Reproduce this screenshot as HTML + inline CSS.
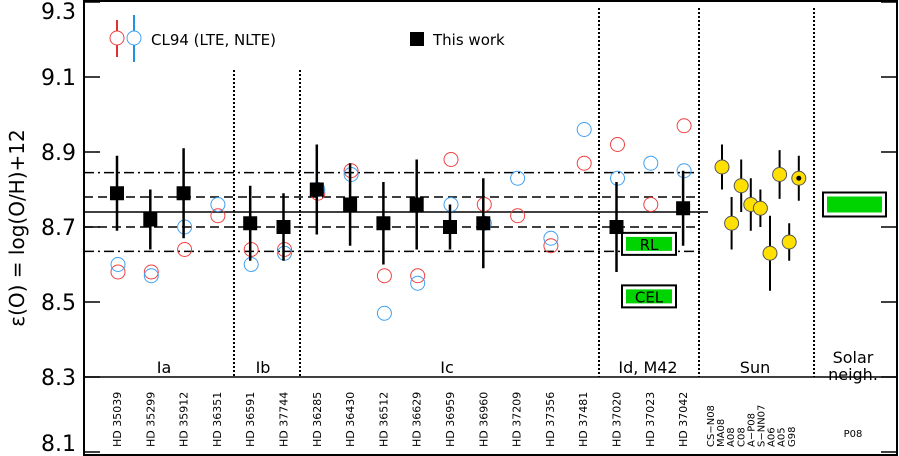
<!DOCTYPE html>
<html><head><meta charset="utf-8">
<style>
html,body{margin:0;padding:0;background:#fff;}
svg{display:block;font-family:"DejaVu Sans","Liberation Sans",sans-serif;}
</style></head>
<body>
<svg id="chart" width="899" height="456" viewBox="0 0 899 456"></svg>
<script>
const stars = ["HD 35039","HD 35299","HD 35912","HD 36351","HD 36591","HD 37744","HD 36285","HD 36430","HD 36512","HD 36629","HD 36959","HD 36960","HD 37209","HD 37356","HD 37481","HD 37020","HD 37023","HD 37042"];
const thisWork = [8.79,8.72,8.79,null,8.71,8.70,8.80,8.76,8.71,8.76,8.70,8.71,null,null,null,8.70,null,8.75];
const thisWorkErr = [0.10,0.08,0.12,null,0.10,0.09,0.12,0.11,0.11,0.12,0.06,0.12,null,null,null,0.12,null,0.10];
const cl94LTE = [8.58,8.58,8.64,8.73,8.64,8.64,8.79,8.85,8.57,8.57,8.88,8.76,8.73,8.65,8.87,8.92,8.76,8.97];
const cl94NLTE = [8.60,8.57,8.70,8.76,8.60,8.63,8.80,8.84,8.47,8.55,8.76,8.71,8.83,8.67,8.96,8.83,8.87,8.85];
const sunLabels = ["CS\u2212N08","MA08","A08","C08","A\u2212P08","S\u2212NN07","A06","A05","G98"];
const sunValues = [8.86,8.71,8.81,8.76,8.75,8.63,8.84,8.66,8.83];
const sunErr = [0.06,0.07,0.07,0.07,0.05,0.10,0.065,0.05,0.06];
const yTicks = [8.1,8.3,8.5,8.7,8.9,9.1,9.3];
const meanLevel = 8.74, sigma1 = [8.70,8.78], sigma2 = [8.635,8.845];
const solarNeigh = 8.76;
const rlValue = 8.655, celValue = 8.515;

const svg = document.getElementById('chart');
const NS = 'http://www.w3.org/2000/svg';
const Y = v => 77 + (9.1 - v) * 375;
const X = i => 117 + 33.3 * i;
const SX = i => 722 + 9.6 * i;
function el(tag, attrs, parent) {
  const e = document.createElementNS(NS, tag);
  for (const k in attrs) e.setAttribute(k, attrs[k]);
  (parent || svg).appendChild(e);
  return e;
}
let e;
e = el('rect',{x:84,y:1,width:813,height:454,fill:'none',stroke:'#000','stroke-width':2});
 
e = el('line',{x1:84,y1:Y(8.3),x2:897,y2:Y(8.3),stroke:'#000','stroke-width':1.5});
 
yTicks.forEach(t => {
  const y = Y(t);
  e = el('line',{x1:84,y1:y,x2:100,y2:y,stroke:'#000','stroke-width':1.5});
   
  e = el('line',{x1:881,y1:y,x2:897,y2:y,stroke:'#000','stroke-width':1.5});
   
  let ly = y + 8;
  if (ly < 20) ly = 19;
  if (ly > 452) ly = 451;
  e = el('text',{x:76,y:ly,'text-anchor':'end','font-size':22,fill:'#000'});
  e.textContent = t.toFixed(1);
   
});
e = el('text',{x:0,y:0,transform:'translate(24,228) rotate(-90)','text-anchor':'middle','font-size':20,fill:'#000','xml:space':'preserve'});
e.textContent = '\u03b5(O)  =  log(O/H)+12';
 
function hline(v, dash, name, x2) {
  e = el('line',{x1:84,y1:Y(v),x2:x2,y2:Y(v),stroke:'#000','stroke-width':1.5,'stroke-dasharray':dash});
   
}
hline(meanLevel,'none','mean-line',708);
hline(sigma1[0],'9,5','sigma1-lower-line',700);
hline(sigma1[1],'9,5','sigma1-upper-line',700);
hline(sigma2[0],'10,4,2,4','sigma2-lower-line',700);
hline(sigma2[1],'10,4,2,4','sigma2-upper-line',700);
[[234,70],[300,70],[599,8],[699,8],[814,8]].forEach(([x,t]) => {
  e = el('line',{x1:x,y1:t,x2:x,y2:Y(8.3),stroke:'#000','stroke-width':2,'stroke-dasharray':'2,2'});
   
});
[['Ia',164,367],['Ib',263,367],['Ic',447,367],['Id, M42',648,367],['Sun',755,367],['Solar',853,357],['neigh.',853,374]].forEach(([t,x,y]) => {
  e = el('text',{x:x,y:y+6,'text-anchor':'middle','font-size':16,fill:'#000'});
  e.textContent = t;
   
});
function box(x1,y1,x2,y2,label,name){
  const g = el('g',{});
   
  el('rect',{x:x1,y:y1,width:x2-x1,height:y2-y1,fill:'#fff',stroke:'#000','stroke-width':2},g);
  el('rect',{x:x1+4,y:y1+4,width:x2-x1-8,height:y2-y1-8,fill:'#00d400'},g);
  if(label){ const t = el('text',{x:(x1+x2)/2,y:(y1+y2)/2+6,'text-anchor':'middle','font-size':15,fill:'#000'},g); t.textContent = label; }
}
box(622,Y(rlValue)-11,676,Y(rlValue)+11,'RL','rl-box');
box(622,Y(celValue)-11,676,Y(celValue)+11,'CEL','cel-box');
box(823,Y(solarNeigh)-12,886,Y(solarNeigh)+12,'','solar-neighborhood-box');
stars.forEach((s,i) => {
  e = el('circle',{cx:X(i)+1,cy:Y(cl94LTE[i]),r:7,fill:'none',stroke:'#f04040','stroke-width':1});
   
  e = el('circle',{cx:X(i)+1,cy:Y(cl94NLTE[i]),r:7,fill:'none',stroke:'#40a0f0','stroke-width':1});
   
});
stars.forEach((s,i) => {
  if (thisWork[i] === null) return;
  const x = X(i), v = thisWork[i], er = thisWorkErr[i];
  e = el('line',{x1:x,y1:Y(v+er),x2:x,y2:Y(v-er),stroke:'#000','stroke-width':2.5});
   
  e = el('rect',{x:x-7,y:Y(v)-7,width:14,height:14,fill:'#000'});
   
});
sunValues.forEach((v,i) => {
  const x = SX(i);
  e = el('line',{x1:x,y1:Y(v+sunErr[i]),x2:x,y2:Y(v-sunErr[i]),stroke:'#000','stroke-width':2});
   
  e = el('circle',{cx:x,cy:Y(v),r:7,fill:'#ffe000',stroke:'#555','stroke-width':1});
   
  if (i === sunValues.length-1) {
    e = el('circle',{cx:x,cy:Y(v),r:2.5,fill:'#000'});
     
  }
});
stars.forEach((s,i) => {
  const x = X(i)+4;
  e = el('text',{x:0,y:0,transform:`translate(${x},447) rotate(-90)`,'font-size':11,fill:'#000','xml:space':'preserve'});
  e.textContent = s.replace(' ','  ');
   
});
sunLabels.forEach((s,i) => {
  const x = 714 + 10.1*i;
  e = el('text',{x:0,y:0,transform:`translate(${x},447) rotate(-90)`,'font-size':10,fill:'#000'});
  e.textContent = s;
   
});
e = el('text',{x:853,y:437,'text-anchor':'middle','font-size':10,fill:'#000'});
e.textContent = 'P08';
 
const lg = el('g',{});
 
el('line',{x1:117,y1:20,x2:117,y2:57,stroke:'#e03030','stroke-width':2},lg);
el('circle',{cx:117,cy:38,r:7,fill:'#fff',stroke:'#f04040','stroke-width':1},lg);
el('line',{x1:134,y1:15,x2:134,y2:62,stroke:'#2090e0','stroke-width':2},lg);
el('circle',{cx:134,cy:38,r:7,fill:'#fff',stroke:'#40a0f0','stroke-width':1},lg);
let t = el('text',{x:151,y:45,'font-size':15,fill:'#000','xml:space':'preserve'},lg); t.textContent = 'CL94  (LTE,  NLTE)';
el('rect',{x:410,y:32,width:14,height:14,fill:'#000'},lg);
t = el('text',{x:433,y:45,'font-size':15,fill:'#000','xml:space':'preserve'},lg); t.textContent = 'This  work';
</script>
</body></html>
